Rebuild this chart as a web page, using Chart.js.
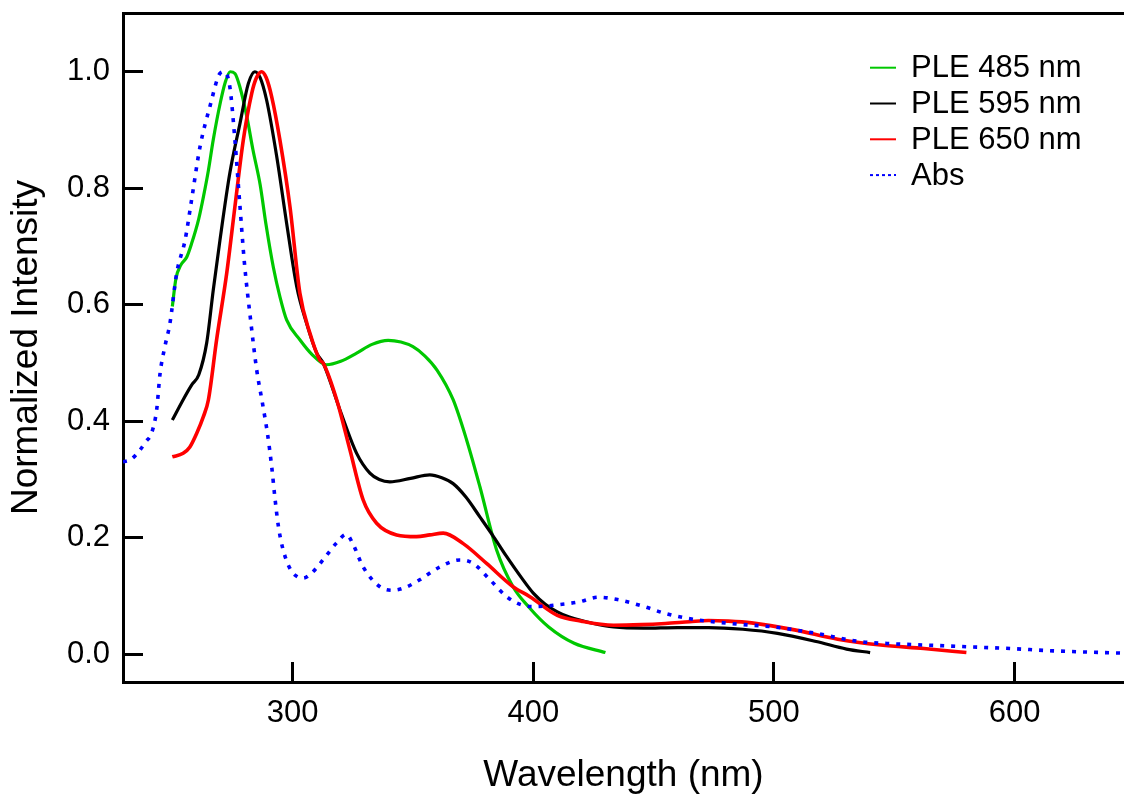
<!DOCTYPE html>
<html>
<head>
<meta charset="utf-8">
<script src="https://cdn.jsdelivr.net/npm/chart.js@4"></script>
<style>
html,body{margin:0;padding:0;background:#fff;}
#wrap{width:1124px;height:798px;}
</style>
</head>
<body>
<div id="wrap"><canvas id="c" width="1124" height="798"></canvas></div>
<script>
// ---- Data ----
const seriesLabels = ['PLE 485 nm', 'PLE 595 nm', 'PLE 650 nm', 'Abs'];
const seriesColors = ['#00c800', '#000000', '#ff0000', '#0000ff'];

const ple485Wl  = [250,251.5,253.5,256,258,261,263,265,267,270,272,274,276,278,281,283.5,286.5,289,292,294.7,297.5,303,308,314,320,326.6,333,339.7,345,350,355,360,366.7,372.3,377.8,384.7,391.6,398.4,406.4,417,430];
const ple485Int = [0.597,0.645,0.668,0.682,0.705,0.748,0.787,0.831,0.883,0.948,0.982,1.0,0.997,0.975,0.922,0.866,0.806,0.736,0.664,0.614,0.574,0.54,0.515,0.497,0.503,0.517,0.532,0.539,0.536,0.528,0.512,0.488,0.437,0.368,0.288,0.18,0.116,0.08,0.047,0.019,0.003];

const ple595Wl  = [250,254.5,258,261,264.3,267,269.8,273.9,278.1,281.6,284.3,286.5,289.2,293.4,297.5,301.7,305.8,310,312.7,319.7,326.6,332.1,336,340.4,349,357,362,366.7,372,377.8,383,388.9,395,400,405,410,415,425,433.4,445.9,460,472.8,487.1,501.5,517.6,530.2,540];
const ple595Int = [0.402,0.437,0.462,0.48,0.535,0.625,0.711,0.826,0.911,0.98,1.0,0.99,0.951,0.854,0.74,0.631,0.568,0.517,0.5,0.419,0.345,0.311,0.3,0.296,0.302,0.308,0.303,0.293,0.27,0.236,0.205,0.168,0.132,0.105,0.086,0.073,0.064,0.053,0.047,0.045,0.046,0.046,0.043,0.036,0.022,0.009,0.003];

const ple650Wl  = [250,254.5,257.3,260.1,262.9,265,268.4,272.6,276,279.5,283,285,287.1,289,291.3,294.7,298.9,303,307.2,311.3,312.7,318.3,323.8,329.3,334.9,343.2,351.5,357,362.6,370.9,380.6,391.6,398.6,410,420,433.4,445,454.9,465,472.8,481,490.7,508.6,526.5,544.4,562.3,580];
const ple650Int = [0.339,0.345,0.356,0.379,0.408,0.437,0.54,0.654,0.768,0.883,0.963,0.99,1.0,0.99,0.957,0.883,0.768,0.62,0.551,0.505,0.5,0.437,0.351,0.265,0.225,0.205,0.202,0.205,0.208,0.19,0.156,0.116,0.099,0.067,0.057,0.05,0.051,0.053,0.056,0.058,0.057,0.054,0.042,0.026,0.016,0.01,0.003];

const absWl  = [229.5,233,236.6,239,241.4,243.5,244.9,247,249,251.8,255.3,258,261.5,265.6,269.8,271.5,273.9,276,278,280,282.5,285,287.5,289.5,291.3,292.6,294,295.7,298.8,302,304.4,308,314.1,318,322.3,325,329.3,336.3,341.8,347,352.8,361.2,369.5,375,382,388.9,395,401.2,410,419,427,435,446,455,463.8,481.7,499.7,517.6,535.5,550,562.3,580.2,598.1,616,645];
const absInt = [0.33,0.335,0.351,0.365,0.38,0.42,0.482,0.53,0.568,0.654,0.711,0.78,0.871,0.94,0.997,1.0,0.974,0.883,0.775,0.67,0.575,0.49,0.43,0.38,0.322,0.27,0.222,0.185,0.148,0.133,0.131,0.14,0.17,0.19,0.206,0.19,0.15,0.116,0.11,0.115,0.128,0.15,0.162,0.156,0.128,0.099,0.085,0.082,0.085,0.09,0.098,0.094,0.082,0.07,0.062,0.053,0.047,0.036,0.022,0.018,0.016,0.013,0.01,0.006,0.002];

const xTickValues = [300, 400, 500, 600];
const yTickValues = [0.0, 0.2, 0.4, 0.6, 0.8, 1.0];

// ---- Build datasets ----
function pts(xs, ys){ return xs.map((x,i)=>({x:x, y:ys[i]})); }
const FONT = '"Liberation Sans", Arial, Helvetica, sans-serif';
Chart.defaults.font.family = FONT;
Chart.defaults.color = '#000';

const datasets = [
  {label: seriesLabels[0], data: pts(ple485Wl, ple485Int), borderColor: seriesColors[0], borderWidth: 3.2, order: 4},
  {label: seriesLabels[1], data: pts(ple595Wl, ple595Int), borderColor: seriesColors[1], borderWidth: 3.2, order: 3},
  {label: seriesLabels[2], data: pts(ple650Wl, ple650Int), borderColor: seriesColors[2], borderWidth: 3.6, order: 2},
  {label: seriesLabels[3], data: pts(absWl, absInt), borderColor: seriesColors[3], borderWidth: 3.6, borderDash: [4,7], order: 1}
].map(d => Object.assign({pointRadius: 0, fill: false, cubicInterpolationMode: 'monotone', backgroundColor: d.borderColor}, d));

const insideLegend = {
  id: 'insideLegend',
  afterDraw(chart){
    const ctx = chart.ctx;
    chart.data.datasets.forEach((ds, i) => {
      const y = 67.7 + i * 35.8;
      ctx.save();
      ctx.strokeStyle = ds.borderColor;
      ctx.lineWidth = 2;
      ctx.setLineDash(ds.borderDash ? [3,3] : []);
      ctx.beginPath(); ctx.moveTo(870, y); ctx.lineTo(896, y); ctx.stroke();
      ctx.setLineDash([]);
      ctx.fillStyle = '#000';
      ctx.font = '31px ' + FONT;
      ctx.textBaseline = 'middle';
      ctx.textAlign = 'left';
      ctx.fillText(ds.label, 911, y + 1);
      ctx.restore();
    });
  }
};

const X_MIN = 229.5, X_MAX = 645.5, Y_MIN = -0.0475, Y_MAX = 1.1008;
function zeroPad(s){ s.paddingTop = 0; s.paddingBottom = 0; s.paddingLeft = 0; s.paddingRight = 0; }

new Chart(document.getElementById('c'), {
  type: 'line',
  data: {datasets},
  plugins: [insideLegend],
  options: {
    responsive: false,
    animation: false,
    layout: {padding: {top: 13, right: 0, bottom: 0, left: 0}},
    plugins: {legend: {display: false}, tooltip: {enabled: false}},
    scales: {
      x: {
        type: 'linear', position: 'bottom', min: X_MIN, max: X_MAX,
        afterBuildTicks: s => { s.ticks = xTickValues.map(v => ({value: v})); },
        ticks: {font: {size: 31}, color: '#000', padding: 33, maxRotation: 0, callback: v => String(v)},
        grid: {drawOnChartArea: false, drawTicks: true, tickLength: -20, color: '#000', lineWidth: 3},
        border: {display: true, color: '#000', width: 3},
        title: {display: true, text: 'Wavelength (nm)', font: {size: 37}, color: '#000', padding: {top: 0, bottom: 0}},
        afterFit: s => { s.height = 116; zeroPad(s); }
      },
      xTop: {
        type: 'linear', position: 'top', min: X_MIN, max: X_MAX,
        ticks: {display: false},
        grid: {display: false},
        border: {display: true, color: '#000', width: 3},
        afterFit: s => { s.height = 0; zeroPad(s); }
      },
      y: {
        type: 'linear', position: 'left', min: Y_MIN, max: Y_MAX,
        afterBuildTicks: s => { s.ticks = yTickValues.map(v => ({value: v})); },
        ticks: {font: {size: 31}, color: '#000', padding: 33, callback: v => Number(v).toFixed(1)},
        grid: {drawOnChartArea: false, drawTicks: true, tickLength: -20, color: '#000', lineWidth: 3},
        border: {display: true, color: '#000', width: 3},
        title: {display: true, text: 'Normalized Intensity', font: {size: 37}, color: '#000', padding: {top: 5, bottom: 0}},
        afterFit: s => { s.width = 123; zeroPad(s); }
      }
    }
  }
});
</script>
</body>
</html>
